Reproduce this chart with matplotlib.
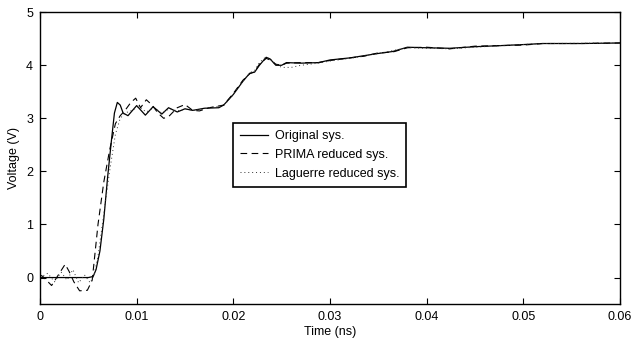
import matplotlib
matplotlib.use("Agg")
import matplotlib.pyplot as plt

plt.rcParams['font.family'] = ['Liberation Sans', 'DejaVu Sans']

# Original system response (time in ns, voltage in V)
t_orig = [0.0, 0.001, 0.003, 0.005, 0.0055, 0.0058, 0.0062, 0.0066, 0.0070, 0.0074,
          0.0077, 0.0080, 0.0083, 0.0086, 0.0091, 0.0100, 0.0109, 0.0117, 0.0126,
          0.0133, 0.0142, 0.0150, 0.0158, 0.0170, 0.0185, 0.0190, 0.0200, 0.0210,
          0.0217, 0.0222, 0.0227, 0.0234, 0.0238, 0.0244, 0.0250, 0.0255, 0.0270,
          0.0288, 0.0300, 0.0321, 0.0335, 0.0349, 0.0365, 0.0380, 0.0400, 0.0424,
          0.0450, 0.0476, 0.0500, 0.0520, 0.0560, 0.0600]
v_orig = [0.0, 0.0, 0.0, 0.0, 0.02, 0.15, 0.5, 1.1, 1.9, 2.6,
          3.1, 3.3, 3.25, 3.1, 3.05, 3.24, 3.06, 3.22, 3.08,
          3.2, 3.12, 3.18, 3.15, 3.19, 3.2, 3.25, 3.45, 3.7,
          3.85, 3.87, 4.0, 4.15, 4.12, 4.0, 4.0, 4.05, 4.04,
          4.05, 4.1, 4.14, 4.18, 4.22, 4.26, 4.34, 4.33, 4.32,
          4.35, 4.37, 4.39, 4.41, 4.41, 4.42]

# PRIMA reduced system
t_prima = [0.0, 0.0003, 0.0012, 0.0019, 0.0026, 0.0030, 0.0035, 0.0041, 0.0049,
           0.0054, 0.0056, 0.0060, 0.0066, 0.0072, 0.0078, 0.0083, 0.0088, 0.0094,
           0.0099, 0.0104, 0.0110, 0.0116, 0.0122, 0.0128, 0.0134, 0.0142, 0.0150,
           0.0158, 0.0165, 0.0175, 0.0190, 0.0200, 0.0210, 0.0217, 0.0222, 0.0227,
           0.0234, 0.0238, 0.0244, 0.0250, 0.0255, 0.0270, 0.0288, 0.0300, 0.0321,
           0.0335, 0.0349, 0.0365, 0.0380, 0.0400, 0.0424, 0.0450, 0.0476, 0.0500,
           0.0520, 0.0560, 0.0600]
v_prima = [0.05, 0.02, -0.15, 0.05, 0.25, 0.12, -0.08, -0.25, -0.24,
           -0.05, 0.3, 1.0, 1.8, 2.4, 2.9, 3.05, 3.15, 3.3,
           3.38, 3.2, 3.35, 3.25, 3.1, 3.0, 3.05, 3.2, 3.26,
           3.15, 3.14, 3.2, 3.25, 3.47, 3.72, 3.84, 3.88, 4.02,
           4.13, 4.1, 4.02, 4.0, 4.04, 4.05, 4.05, 4.09, 4.14,
           4.17, 4.23, 4.25, 4.33, 4.34, 4.31, 4.36, 4.37, 4.38,
           4.41, 4.41, 4.42]

# Laguerre reduced system
t_lag = [0.0, 0.0008, 0.0015, 0.0022, 0.0028, 0.0034, 0.0040, 0.0046, 0.0052,
         0.0056, 0.0060, 0.0066, 0.0072, 0.0078, 0.0083, 0.0088, 0.0095, 0.0102,
         0.0110, 0.0118, 0.0126, 0.0134, 0.0142, 0.0150, 0.0160, 0.0175, 0.0190,
         0.0200, 0.0210, 0.0217, 0.0222, 0.0227, 0.0233, 0.0238, 0.0244, 0.0250,
         0.0260, 0.0270, 0.0288, 0.0300, 0.0321, 0.0349, 0.0380, 0.0424, 0.0476,
         0.0520, 0.0600]
v_lag = [0.0, 0.08, -0.08, 0.1, -0.05, 0.15, -0.1, 0.05, -0.1,
         0.05, 0.4, 1.2, 2.0, 2.7, 3.0, 3.1, 3.15, 3.22,
         3.12, 3.2, 3.1, 3.18, 3.14, 3.17, 3.15, 3.2, 3.24,
         3.45, 3.7, 3.86, 3.9, 4.05, 4.15, 4.12, 4.02, 3.96,
         3.96, 4.0, 4.04, 4.08, 4.13, 4.22, 4.33, 4.31, 4.37,
         4.41, 4.42]

fig = plt.figure(figsize=(6.42, 3.39), dpi=100)
ax = fig.add_axes([0.0623, 0.103, 0.9034, 0.861])

ax.plot(t_orig, v_orig, color='black', lw=0.9, label='Original sys.')
ax.plot(t_prima, v_prima, color='black', lw=0.8, dashes=(6, 4), label='PRIMA reduced sys.')
ax.plot(t_lag, v_lag, color='#333333', lw=0.7, dashes=(1, 3), label='Laguerre reduced sys.')

ax.set_xlim(0, 0.06)
ax.set_ylim(-0.5, 5)
ax.set_xticks([0, 0.01, 0.02, 0.03, 0.04, 0.05, 0.06])
ax.set_xticklabels(['0', '0.01', '0.02', '0.03', '0.04', '0.05', '0.06'])
ax.set_yticks([0, 1, 2, 3, 4, 5])
ax.tick_params(direction='in', top=True, right=True, length=4, width=0.8,
               labelsize=9, pad=5)
for s in ax.spines.values():
    s.set_linewidth(1.0)

ax.set_xlabel('Time (ns)', fontsize=9, labelpad=2)
ax.set_ylabel('Voltage (V)', fontsize=9, labelpad=4)

leg = ax.legend(loc='upper left', bbox_to_anchor=(0.333, 0.62), fontsize=9,
                fancybox=False, framealpha=1, edgecolor='black', handlelength=2.2,
                borderpad=0.55, labelspacing=0.55, handletextpad=0.6, borderaxespad=0)
leg.get_frame().set_linewidth(1.2)

fig.savefig('out.png', dpi=100)
